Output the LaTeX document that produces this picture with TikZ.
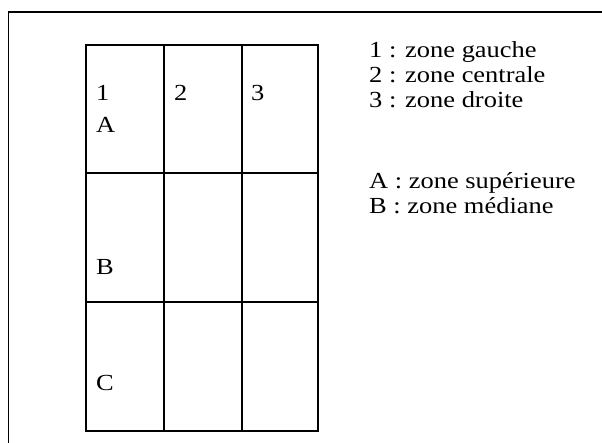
\documentclass[tikz,border=0pt]{standalone}
\usepackage{fontspec}
\setmainfont{Liberation Serif}[FakeStretch=1.15]
\begin{document}
\begin{tikzpicture}[x=1pt,y=-1pt,
  lbl/.style={anchor=base west,inner sep=0pt,font=\fontsize{23}{25}\selectfont},
  grille/.style={line width=1.2pt}]
\useasboundingbox (0,0) rectangle (602,443);
% cadre
\draw[line width=1.8pt] (8.5,443) -- (8.5,12) -- (602,12);
% grille 3x3
\draw[grille] (86,45) rectangle (318,431);
\draw[grille] (164,45) -- (164,431);
\draw[grille] (242,45) -- (242,431);
\draw[grille] (86,173) -- (318,173);
\draw[grille] (86,302) -- (318,302);
% noms des zones
\node[lbl] (c1) at (96,101) {1};
\node[lbl] (c2) at (174,101) {2};
\node[lbl] (c3) at (251,101) {3};
\node[lbl] (rA) at (96,133) {A};
\node[lbl] (rB) at (96,275) {B};
\node[lbl] (rC) at (96,390) {C};
% legende
\node[lbl] (l1) at (369,58) {1 : zone gauche};
\node[lbl] (l2) at (369,83) {2 : zone centrale};
\node[lbl] (l3) at (369,108) {3 : zone droite};
\node[lbl] (lA) at (369,189) {A : zone supérieure};
\node[lbl] (lB) at (369,214) {B : zone médiane};
\end{tikzpicture}
\end{document}
